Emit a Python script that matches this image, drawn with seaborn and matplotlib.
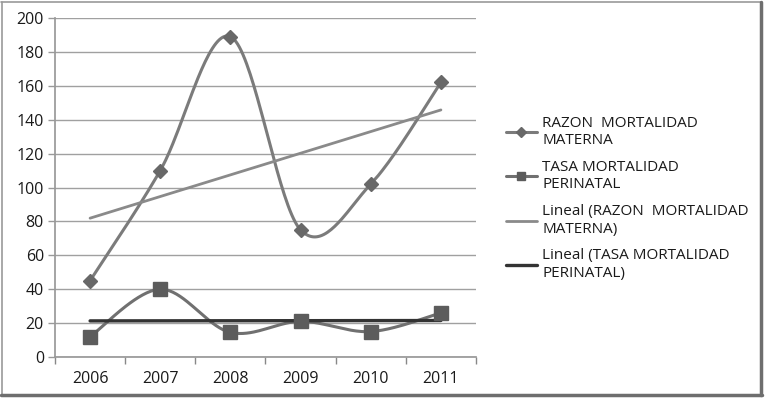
import numpy as np
import pandas as pd
import seaborn as sns
import matplotlib
matplotlib.use("Agg")
import matplotlib.pyplot as plt
from matplotlib.lines import Line2D

years = ["2006", "2007", "2008", "2009", "2010", "2011"]
razon = [45, 110, 189, 75, 102, 162]
tasa = [12, 40, 14.5, 21, 15, 26]
labels = ["RAZON  MORTALIDAD\nMATERNA", "TASA MORTALIDAD\nPERINATAL",
          "Lineal (RAZON  MORTALIDAD\nMATERNA)", "Lineal (TASA MORTALIDAD\nPERINATAL)"]
yticks = [0, 20, 40, 60, 80, 100, 120, 140, 160, 180, 200]

sns.set_theme(style="white")
plt.rcParams['font.family'] = ['Open Sans', 'DejaVu Sans']


def smooth(y, n=40):
    # Catmull-Rom style bezier (like spreadsheet smoothed lines)
    x = np.arange(len(y), dtype=float)
    y = np.asarray(y, dtype=float)
    xs, ys = [], []
    for i in range(len(y) - 1):
        p0 = (x[i - 1], y[i - 1]) if i > 0 else (x[i], y[i])
        p1 = (x[i], y[i])
        p2 = (x[i + 1], y[i + 1])
        p3 = (x[i + 2], y[i + 2]) if i + 2 < len(y) else (x[i + 1], y[i + 1])
        c1 = (p1[0] + (p2[0] - p0[0]) / 6, p1[1] + (p2[1] - p0[1]) / 6)
        c2 = (p2[0] - (p3[0] - p1[0]) / 6, p2[1] - (p3[1] - p1[1]) / 6)
        t = np.linspace(0, 1, n)
        bx = (1-t)**3*p1[0] + 3*(1-t)**2*t*c1[0] + 3*(1-t)*t**2*c2[0] + t**3*p2[0]
        by = (1-t)**3*p1[1] + 3*(1-t)**2*t*c1[1] + 3*(1-t)*t**2*c2[1] + t**3*p2[1]
        xs.extend(bx); ys.extend(by)
    return np.array(xs), np.array(ys)


fig = plt.figure(figsize=(7.65, 3.98), dpi=100)
ax = fig.add_axes([55/765, 41/398, 421/765, 339/398])

xi = np.arange(len(years))
c_r, m_r = "#7b7b7b", "#686868"
c_t, m_t = "#707070", "#5c5c5c"
c_lr, c_lt = "#8a8a8a", "#333333"
tc = "#1a1a1a"

sx, sy = smooth(razon)
sns.lineplot(x=sx, y=sy, ax=ax, color=c_r, lw=2.2, sort=False, estimator=None)
sx, sy = smooth(tasa)
sns.lineplot(x=sx, y=sy, ax=ax, color=c_t, lw=2.2, sort=False, estimator=None)

pr = np.polyfit(xi, razon, 1)
pt = np.polyfit(xi, tasa, 1)
sns.lineplot(x=xi, y=np.polyval(pr, xi), ax=ax, color=c_lr, lw=2.0)
sns.lineplot(x=xi, y=np.polyval(pt, xi), ax=ax, color=c_lt, lw=2.4)

ax.plot(xi, razon, ls="none", marker="D", ms=7.5, color=m_r, zorder=5)
ax.plot(xi, tasa, ls="none", marker="s", ms=9.5, color=m_t, zorder=5)

ax.set_xlim(-0.5, 5.5)
ax.set_ylim(0, 200)
ax.set_yticks(yticks)
ax.set_yticklabels([str(v) for v in yticks], fontsize=11.5, color=tc)
ax.set_xticks(xi)
ax.set_xticklabels(years, fontsize=11.5, color=tc)
ax.set_xticks(np.arange(-0.5, 6.0, 1.0), minor=True)
ax.tick_params(axis="x", which="major", length=0, pad=10)
ax.tick_params(axis="x", which="minor", length=5, width=1, color="#888888", direction="out", bottom=True)
ax.tick_params(axis="y", which="major", length=5, width=1, color="#999999", direction="out", left=True, pad=3)
ax.grid(axis="y", color="#a0a0a0", lw=1.0)
ax.set_axisbelow(True)
for s in ["top", "right"]:
    ax.spines[s].set_visible(False)
ax.spines["left"].set_color("#999999")
ax.spines["bottom"].set_color("#999999")

handles = [
    Line2D([], [], color=c_r, lw=2.2, marker="D", ms=5, mfc=m_r, mec=m_r),
    Line2D([], [], color=c_t, lw=2.2, marker="s", ms=6, mfc=m_t, mec=m_t),
    Line2D([], [], color=c_lr, lw=2.0),
    Line2D([], [], color=c_lt, lw=2.4),
]
leg = fig.legend(handles, labels, loc="upper left", bbox_to_anchor=(500/765, 1 - 110/398),
                 frameon=False, fontsize=11, handlelength=2.0, handletextpad=0.35,
                 labelspacing=0.78, borderaxespad=0)
for t in leg.get_texts():
    t.set_color(tc)

# figure frame: thin light top/left, thick dark right/bottom
fig.add_artist(Line2D([1/765, 761/765], [1 - 2/398, 1 - 2/398], transform=fig.transFigure,
                      color="#9a9a9a", lw=1.2))
fig.add_artist(Line2D([1.5/765, 1.5/765], [3/398, 1 - 2/398], transform=fig.transFigure,
                      color="#9a9a9a", lw=1.2))
fig.add_artist(Line2D([761/765, 761/765], [3/398, 1 - 2/398], transform=fig.transFigure,
                      color="#6e6e6e", lw=2.5))
fig.add_artist(Line2D([1/765, 762/765], [3/398, 3/398], transform=fig.transFigure,
                      color="#6e6e6e", lw=2.5))
fig.savefig("out.png", dpi=100)
